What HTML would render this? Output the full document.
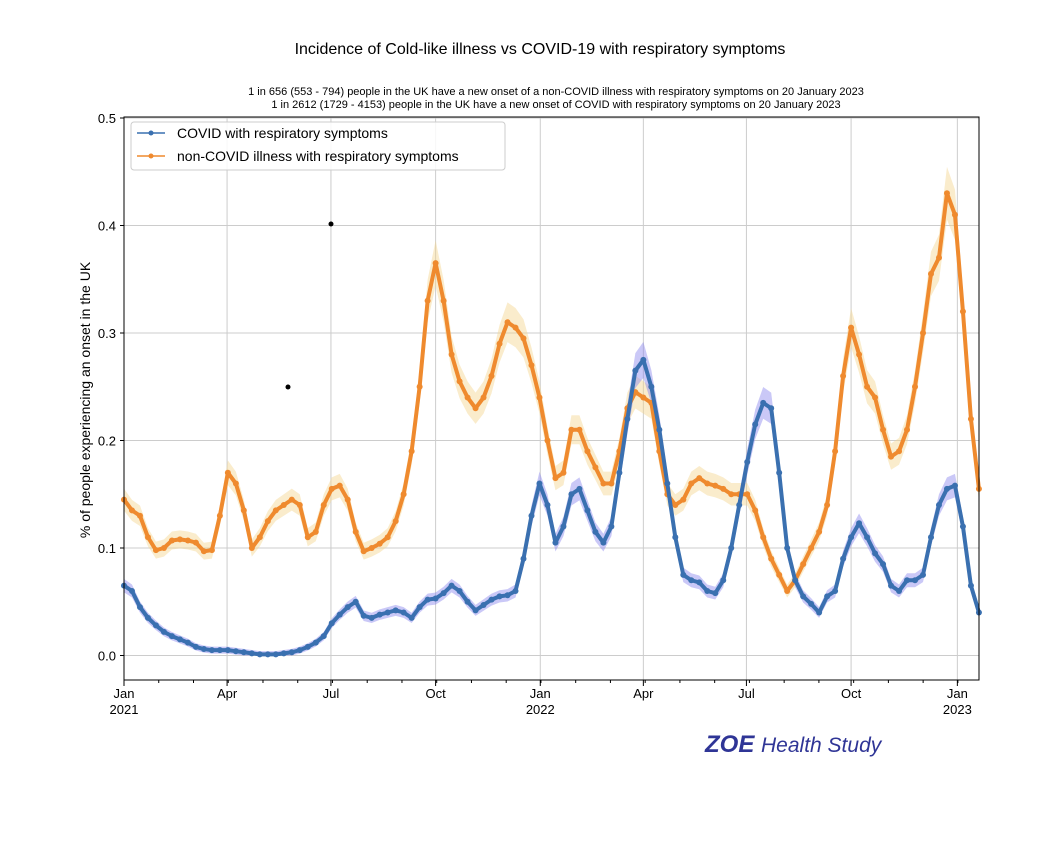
<!DOCTYPE html>
<html><head><meta charset="utf-8"><style>
body{margin:0;background:#fff;width:1063px;height:842px;overflow:hidden;font-family:"Liberation Sans",sans-serif}
</style></head><body>
<svg id="chart" width="1063" height="842" xmlns="http://www.w3.org/2000/svg" font-family="Liberation Sans, DejaVu Sans, sans-serif">
<text x="540" y="54" text-anchor="middle" font-size="16" fill="#000">Incidence of Cold-like illness vs COVID-19 with respiratory symptoms</text>
<text x="556" y="95" text-anchor="middle" font-size="11" fill="#000">1 in 656 (553 - 794) people in the UK have a new onset of a non-COVID illness with respiratory symptoms on 20 January 2023</text>
<text x="556" y="108" text-anchor="middle" font-size="11" fill="#000">1 in 2612 (1729 - 4153) people in the UK have a new onset of COVID with respiratory symptoms on 20 January 2023</text>
<text transform="translate(90,400) rotate(-90)" text-anchor="middle" font-size="14" fill="#000">% of people experiencing an onset in the UK</text>
<g id="grid"></g><g id="bands"></g><g id="lines"></g><g id="axes"></g>
<rect x="124" y="117" width="855" height="563" fill="none" stroke="#000" stroke-width="1"/>
<circle cx="331" cy="224" r="2.5" fill="#000"/>
<circle cx="288" cy="387" r="2.5" fill="#000"/>
<g>
<rect x="131" y="122" width="374" height="48" rx="3" fill="#fff" fill-opacity="0.85" stroke="#ccc"/>
<line x1="137" y1="133" x2="165" y2="133" stroke="#3a70b0" stroke-width="1.5"/><circle cx="151" cy="133" r="2.5" fill="#3a70b0"/>
<text x="177" y="138" font-size="14">COVID with respiratory symptoms</text>
<line x1="137" y1="156" x2="165" y2="156" stroke="#ef8a2e" stroke-width="1.5"/><circle cx="151" cy="156" r="2.5" fill="#ef8a2e"/>
<text x="177" y="161" font-size="14">non-COVID illness with respiratory symptoms</text>
</g>
<text x="705" y="752" font-size="24" font-weight="bold" font-style="italic" fill="#2f3596">ZOE <tspan font-size="21" font-weight="normal">Health Study</tspan></text>
</svg>
<script>
const covid=[0.065,0.06,0.045,0.035,0.028,0.022,0.018,0.015,0.012,0.008,0.006,0.005,0.005,0.005,0.004,0.003,0.002,0.001,0.001,0.001,0.002,0.003,0.005,0.008,0.012,0.018,0.03,0.038,0.045,0.05,0.037,0.035,0.038,0.04,0.042,0.04,0.035,0.045,0.052,0.053,0.058,0.065,0.06,0.05,0.042,0.047,0.052,0.055,0.056,0.06,0.09,0.13,0.16,0.14,0.105,0.12,0.15,0.155,0.135,0.115,0.105,0.12,0.17,0.22,0.265,0.275,0.25,0.21,0.16,0.11,0.075,0.07,0.068,0.06,0.058,0.07,0.1,0.14,0.18,0.215,0.235,0.23,0.17,0.1,0.07,0.055,0.048,0.04,0.055,0.06,0.09,0.11,0.123,0.11,0.095,0.085,0.065,0.06,0.07,0.07,0.075,0.11,0.14,0.155,0.158,0.12,0.065,0.04];
const nonCovid=[0.145,0.135,0.13,0.11,0.098,0.1,0.107,0.108,0.107,0.105,0.097,0.098,0.13,0.17,0.16,0.135,0.1,0.11,0.125,0.135,0.14,0.145,0.14,0.11,0.115,0.14,0.155,0.158,0.145,0.115,0.097,0.1,0.104,0.11,0.125,0.15,0.19,0.25,0.33,0.365,0.33,0.28,0.255,0.24,0.23,0.24,0.26,0.29,0.31,0.305,0.295,0.27,0.24,0.2,0.165,0.17,0.21,0.21,0.19,0.175,0.16,0.16,0.19,0.23,0.245,0.24,0.235,0.19,0.15,0.14,0.145,0.16,0.165,0.16,0.158,0.155,0.15,0.15,0.15,0.135,0.11,0.09,0.075,0.06,0.07,0.085,0.1,0.115,0.14,0.19,0.26,0.305,0.28,0.25,0.24,0.21,0.185,0.19,0.21,0.25,0.3,0.355,0.37,0.43,0.41,0.32,0.22,0.155];
const yTicks=[0,0.1,0.2,0.3,0.4,0.5];
const yTickLabels=["0.0","0.1","0.2","0.3","0.4","0.5"];
const xTickWeeks=[0,12.9,25.9,39,52.1,65,77.9,91,104.3];
const xTickLabels=["Jan|2021","Apr","Jul","Oct","Jan|2022","Apr","Jul","Oct","Jan|2023"];

const NS="http://www.w3.org/2000/svg";
const X=w=>124+w*7.99, Y=v=>655.5-v*1075;
function mk(t,a,p){const e=document.createElementNS(NS,t);for(const k in a)e.setAttribute(k,a[k]);p.appendChild(e);return e;}
const grid=document.getElementById('grid'),axes=document.getElementById('axes'),bands=document.getElementById('bands'),lines=document.getElementById('lines');
yTicks.forEach((v,i)=>{
 const g=mk('line',{x1:124,x2:979,y1:Y(v),y2:Y(v),stroke:'#ccc','stroke-width':1},grid);
 
 
 mk('line',{x1:120,x2:124,y1:Y(v),y2:Y(v),stroke:'#000'},axes);
 const t=mk('text',{x:116,y:Y(v)+5,'text-anchor':'end','font-size':13},axes);t.textContent=yTickLabels[i];
 
 
});
xTickWeeks.forEach((w,i)=>{
 const x=X(w);
 const g=mk('line',{x1:x,x2:x,y1:117,y2:680,stroke:'#ccc','stroke-width':1},grid);
 
 
 mk('line',{x1:x,x2:x,y1:680,y2:686,stroke:'#000'},axes);
 const parts=xTickLabels[i].split('|');
 parts.forEach((p,j)=>{const t=mk('text',{x:x,y:698+j*16,'text-anchor':'middle','font-size':13},axes);t.textContent=p;
 
 });
});
for(let m=0;m<25;m++){const x=X(m*30.44/7);if(x<=979)mk('line',{x1:x,x2:x,y1:680,y2:683,stroke:'#000'},axes);}
function draw(arr,col,bandCol,name){
 const up=arr.map((v,i)=>X(i)+','+Y(v*1.05+0.003)).join(' ');
 const lo=arr.map((v,i)=>X(i)+','+Y(Math.max(0,v*0.95-0.003))).reverse().join(' ');
 const b=mk('polygon',{points:up+' '+lo,fill:bandCol,opacity:0.45},bands);
 
 
 const l=mk('polyline',{points:arr.map((v,i)=>X(i)+','+Y(v)).join(' '),fill:'none',stroke:col,'stroke-width':4,'stroke-linejoin':'round'},lines);
 
 
 arr.forEach((v,i)=>{const c=mk('circle',{cx:X(i),cy:Y(v),r:3,fill:col},lines);
 
 });
}
draw(nonCovid,'#ef8a2e','#f5d58e','non-covid');
draw(covid,'#3a70b0','#8a86ee','covid');
</script>
</body></html>
